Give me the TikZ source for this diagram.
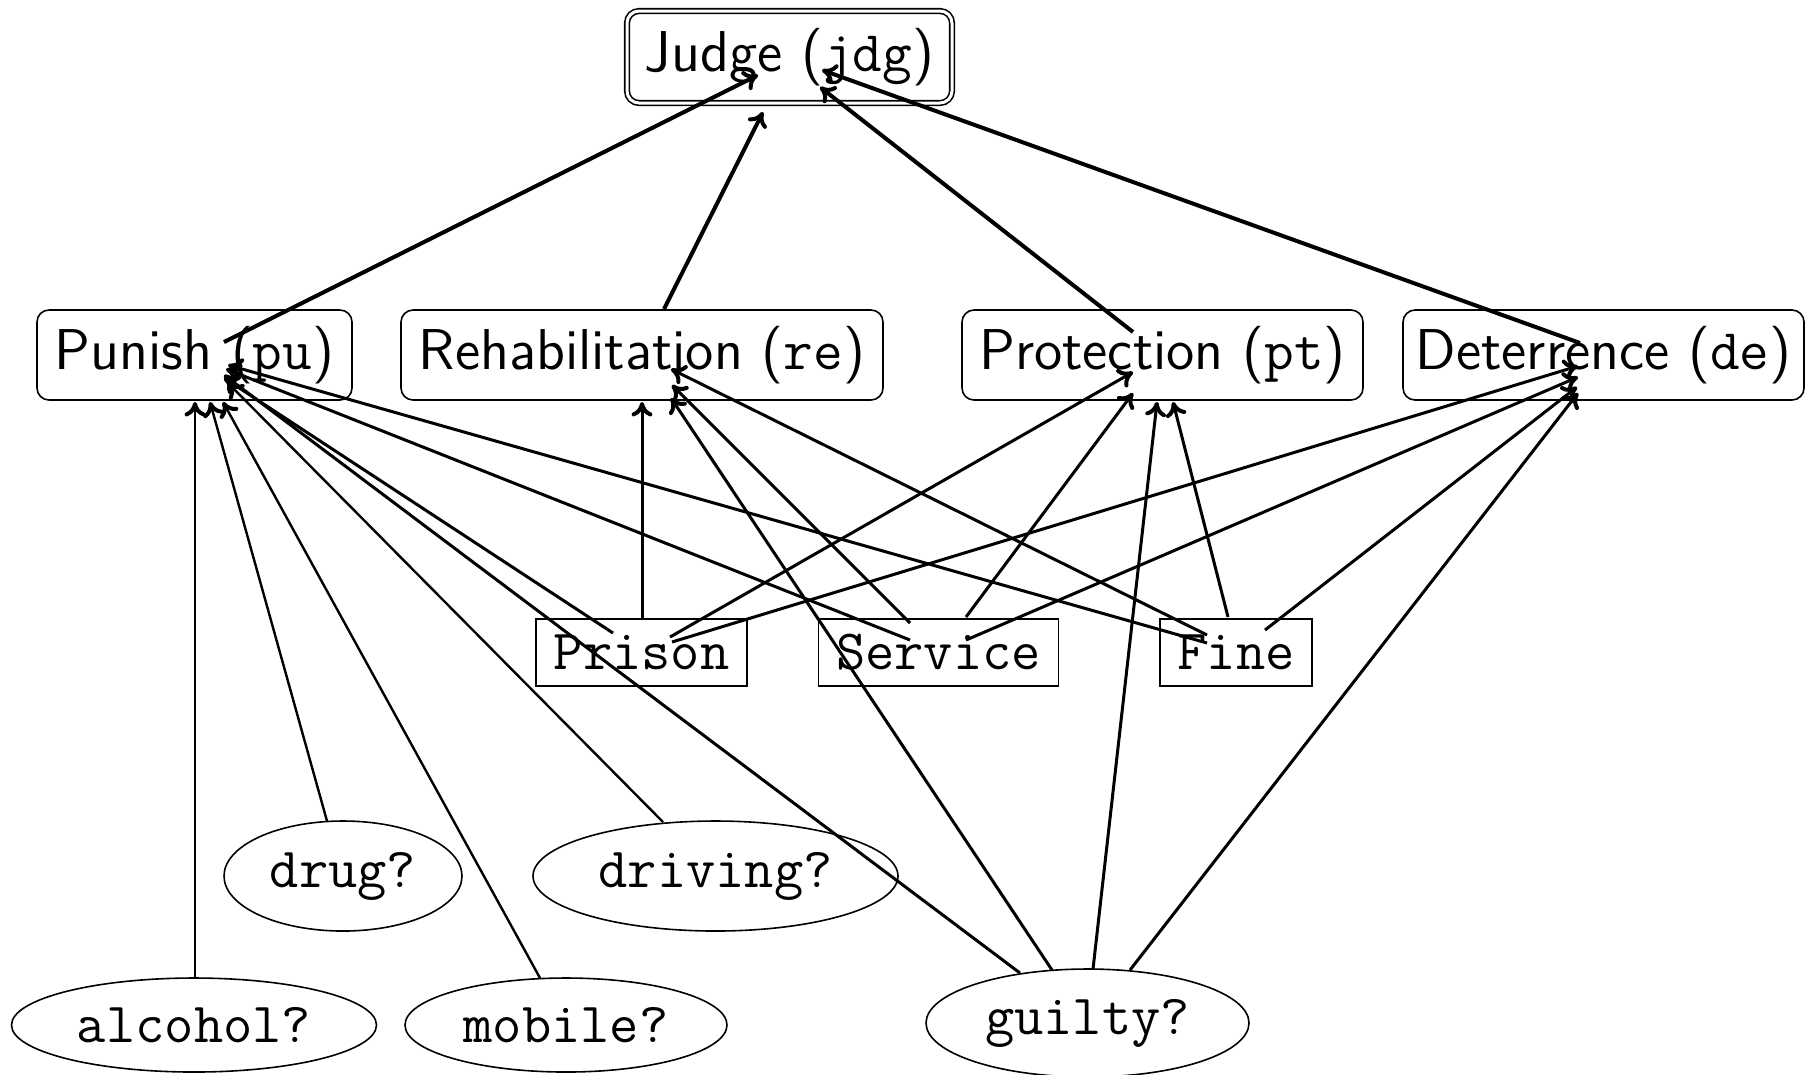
\documentclass[tikz,border=0pt]{standalone}
\usepackage{fontspec}
\usetikzlibrary{arrows.meta,shapes.geometric}
\begin{document}
\begin{tikzpicture}[x=0.25pt,y=-0.25pt,
  box/.style={draw, rounded corners=3pt, line width=0.4pt, inner sep=0pt,
    font=\fontsize{14.4}{16}\selectfont\sffamily, minimum height=22.5pt},
  jbox/.style={box, double, double distance=0.75pt, minimum height=23pt},
  tbox/.style={draw, rectangle, line width=0.4pt, inner sep=0pt,
    font=\fontsize{14.2}{16}\selectfont\ttfamily, minimum height=16.75pt},
  oval/.style={draw, ellipse, line width=0.4pt, inner sep=0pt,
    font=\fontsize{14.2}{16}\selectfont\ttfamily},
  tip/.style={-{Computer Modern Rightarrow[length=3.6pt,width=5.2pt,line width=1pt]}},
  jedge/.style={tip, line width=1pt},
  medge/.style={tip, line width=0.75pt},
  sedge/.style={tip, line width=0.6pt}]
\useasboundingbox (0,0) rectangle (1805,1074);

% nodes
\node[jbox, minimum width=81.25pt] (jdg) at (789.5,57) {Judge (\texttt{jdg})};
\node[box, minimum width=78.75pt] (pu) at (194.5,355) {Punish (\texttt{pu})};
\node[box, minimum width=120.5pt] (re) at (642,355) {Rehabilitation (\texttt{re})};
\node[box, minimum width=100.25pt] (pt) at (1162.5,355) {Protection (\texttt{pt})};
\node[box, minimum width=100.25pt] (de) at (1603.5,355) {Deterrence (\texttt{de})};
\node[tbox, minimum width=52.75pt] (prison) at (641.5,652.5) {Prison};
\node[tbox, minimum width=60pt] (service) at (938.5,652.5) {Service};
\node[tbox, minimum width=38pt] (fine) at (1236,652.5) {Fine};
\node[oval, minimum width=59.5pt, minimum height=27.5pt] (drug) at (343,876) {drug?};
\node[oval, minimum width=91.25pt, minimum height=27.5pt] (driving) at (715.5,876) {driving?};
\node[oval, minimum width=91.25pt, minimum height=23.5pt] (alcohol) at (194,1025) {alcohol?};
\node[oval, minimum width=80.5pt, minimum height=23.5pt] (mobile) at (566,1025) {mobile?};
\node[oval, minimum width=80.75pt, minimum height=27pt] (guilty) at (1087.5,1023) {guilty?};

% edges into Judge
\draw[jedge] ([shift={(29.5,-13)}]pu.center) -- ([shift={(-31.5,18)}]jdg.center);
\draw[jedge] ([shift={(22,-46)}]re.center) -- ([shift={(-26.5,55)}]jdg.center);
\draw[jedge] ([shift={(-29.5,-23)}]pt.center) -- ([shift={(30.5,30)}]jdg.center);
\draw[jedge] ([shift={(-23.5,-12)}]de.center) -- ([shift={(32.5,13)}]jdg.center);

% Prison
\draw[medge] ([shift={(0.5,-33.5)}]prison.center) -- ([shift={(0,47)}]re.center);
\draw[medge] ([shift={(-28.5,-19.5)}]prison.center) -- ([shift={(29.5,23)}]pu.center);
\draw[medge] ([shift={(28.5,-15.5)}]prison.center) -- ([shift={(-29.5,17)}]pt.center);
\draw[medge] ([shift={(30.5,-10.5)}]prison.center) -- ([shift={(-25.5,11)}]de.center);

% Service
\draw[medge] ([shift={(-28.5,-29.5)}]service.center) -- ([shift={(30,30)}]re.center);
\draw[medge] ([shift={(-28.5,-12.5)}]service.center) -- ([shift={(31.5,14)}]pu.center);
\draw[medge] ([shift={(27.5,-35.5)}]service.center) -- ([shift={(-29.5,38)}]pt.center);
\draw[medge] ([shift={(27.5,-12.5)}]service.center) -- ([shift={(-25.5,22)}]de.center);

% Fine
\draw[medge] ([shift={(-29,-17.5)}]fine.center) -- ([shift={(29,14)}]re.center);
\draw[medge] ([shift={(-29,-9.5)}]fine.center) -- ([shift={(33.5,10)}]pu.center);
\draw[medge] ([shift={(-8,-35.5)}]fine.center) -- ([shift={(10.5,47)}]pt.center);
\draw[medge] ([shift={(29,-22.5)}]fine.center) -- ([shift={(-26.5,32)}]de.center);

% guilty
\draw[medge] ([shift={(-67.5,-50)}]guilty.center) -- ([shift={(29.5,20)}]pu.center);
\draw[medge] ([shift={(-35.5,-53)}]guilty.center) -- ([shift={(29,43)}]re.center);
\draw[medge] ([shift={(5.5,-54)}]guilty.center) -- ([shift={(-5.5,47)}]pt.center);
\draw[medge] ([shift={(42.5,-53)}]guilty.center) -- ([shift={(-25.5,38)}]de.center);

% other ovals
\draw[sedge] ([shift={(-52.5,-54)}]driving.center) -- ([shift={(33.5,28)}]pu.center);
\draw[sedge] ([shift={(-16,-55)}]drug.center) -- ([shift={(15.5,47)}]pu.center);
\draw[sedge] ([shift={(1,-47)}]alcohol.center) -- ([shift={(0.5,47)}]pu.center);
\draw[sedge] ([shift={(-26,-47)}]mobile.center) -- ([shift={(28.5,47)}]pu.center);
\end{tikzpicture}
\end{document}
